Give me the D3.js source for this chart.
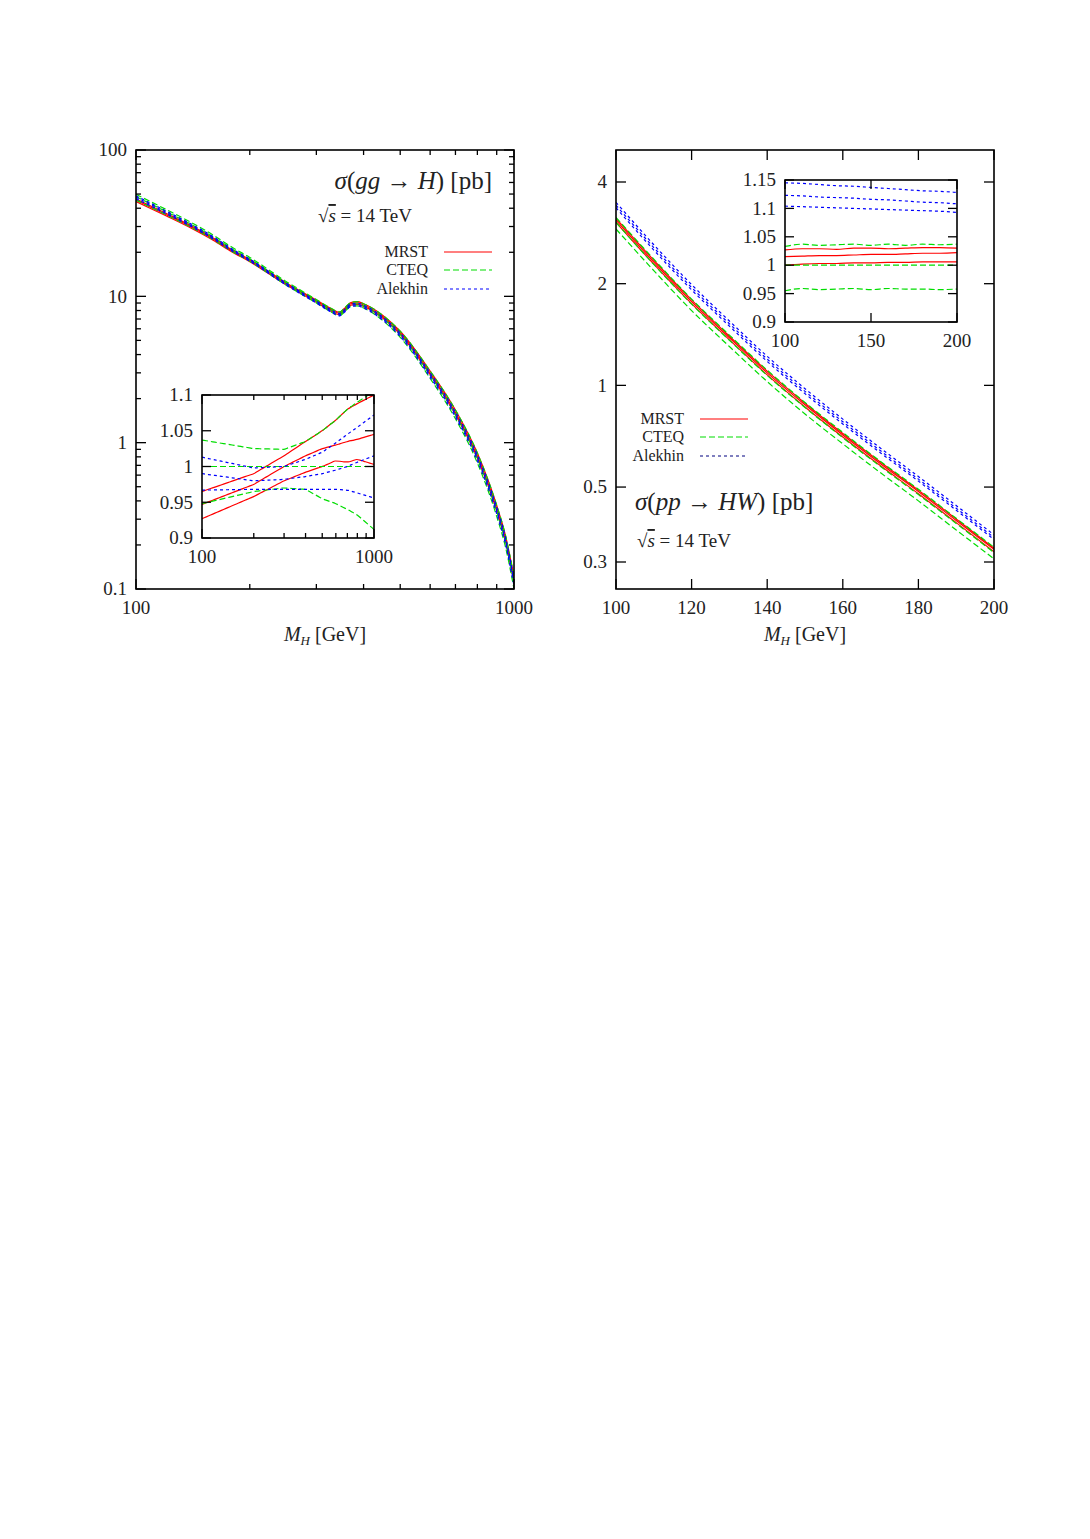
<!DOCTYPE html>
<html><head><meta charset="utf-8">
<script src="https://cdn.jsdelivr.net/npm/d3@7"></script>
<style>body{margin:0;background:#fff}text{font-family:"Liberation Serif","DejaVu Serif",serif;fill:#222}</style>
</head><body><svg id="c" width="1090" height="1539"></svg>
<script>
// ---------- data ----------
const ggMass = [100,120,140,160,180,200,250,300,330,345,355,370,385,400,450,500,600,700,800,900,950,1000];
const ggXsec = [48,38,31,25.5,21,18,12.3,9.3,8.0,7.6,8.0,8.8,8.9,8.6,7.1,5.5,2.9,1.55,0.78,0.34,0.21,0.11];
const ggRatioMass = [100,200,300,400,500,600,700,800,1000];
const ggRatio = {
  MRST:   [[0.965,0.99,1.015,1.035,1.05,1.065,1.08,1.088,1.1],
           [0.947,0.975,1.0,1.015,1.025,1.03,1.035,1.038,1.045],
           [0.927,0.958,0.98,0.992,1.0,1.008,1.006,1.01,1.003]],
  CTEQ:   [[1.037,1.025,1.024,1.035,1.05,1.065,1.08,1.09,1.105],
           [1.0,1.0,1.0,1.0,1.0,1.0,1.0,1.0,1.0],
           [0.948,0.965,0.97,0.968,0.955,0.948,0.94,0.932,0.912]],
  Alekhin:[[1.013,0.998,1.0,1.01,1.02,1.033,1.045,1.055,1.072],
           [0.99,0.98,0.982,0.986,0.99,0.995,1.0,1.006,1.015],
           [0.967,0.968,0.968,0.968,0.968,0.968,0.967,0.963,0.956]]
};
const hwMass = [100,110,120,130,140,150,160,170,180,190,200];
const hwXsec = [3.04,2.28,1.74,1.36,1.07,0.86,0.70,0.575,0.475,0.39,0.32];
const hwRatio = {
  MRST:   [[1.027,1.029,1.029,1.028,1.030,1.030,1.029,1.030,1.031,1.031,1.030],
           [1.015,1.016,1.017,1.017,1.018,1.019,1.019,1.020,1.021,1.021,1.022],
           [1.000,1.002,1.003,1.003,1.004,1.004,1.005,1.005,1.006,1.006,1.006]],
  CTEQ:   [[1.033,1.037,1.035,1.036,1.037,1.035,1.037,1.035,1.037,1.036,1.037],
           [1.0,1.0,1.0,1.0,1.0,1.0,1.0,1.0,1.0,1.0,1.0],
           [0.955,0.959,0.957,0.958,0.959,0.957,0.959,0.958,0.958,0.957,0.958]],
  Alekhin:[[1.145,1.144,1.142,1.140,1.139,1.137,1.135,1.133,1.131,1.130,1.128],
           [1.123,1.122,1.120,1.119,1.118,1.116,1.115,1.113,1.111,1.110,1.108],
           [1.104,1.103,1.102,1.101,1.100,1.099,1.098,1.097,1.096,1.095,1.093]]
};
const pdfSets = ["MRST","CTEQ","Alekhin"];
const leftYTicks = [100,10,1,0.1];
const rightYTicks = [4,2,1,0.5,0.3];
const rightXTicks = [100,120,140,160,180,200];
const ggInsetYTicks = [0.9,0.95,1,1.05,1.1];
const hwInsetYTicks = [0.9,0.95,1,1.05,1.1,1.15];
const hwInsetXTicks = [100,150,200];

// ---------- style ----------
const col = {MRST:"#ff0000",CTEQ:"#00dd00",Alekhin:"#0000ff"};
const dash = {MRST:null,CTEQ:"6,3",Alekhin:"3,3"};
const svg = d3.select("#c");

function logMinor(lo,hi){const a=[];for(let d=Math.pow(10,Math.floor(Math.log10(lo)));d<hi;d*=10)for(let k=2;k<10;k++){const v=k*d;if(v>lo&&v<hi)a.push(v);}return a;}

function frame(g,x,y,xMaj,xMin,yMaj,yMin,L,l){
  const [x0,x1]=x.range(),[y0,y1]=y.range();
  g.append("rect").attr("x",x0).attr("y",y1).attr("width",x1-x0).attr("height",y0-y1).attr("fill","none").attr("stroke","#000").attr("stroke-width",1.6);
  const t=(v,len,isX)=>{ if(isX){const p=x(v);g.append("line").attr("x1",p).attr("x2",p).attr("y1",y0).attr("y2",y0-len).attr("stroke","#000").attr("stroke-width",1.3);g.append("line").attr("x1",p).attr("x2",p).attr("y1",y1).attr("y2",y1+len).attr("stroke","#000").attr("stroke-width",1.3);}
    else{const p=y(v);g.append("line").attr("y1",p).attr("y2",p).attr("x1",x0).attr("x2",x0+len).attr("stroke","#000").attr("stroke-width",1.3);g.append("line").attr("y1",p).attr("y2",p).attr("x1",x1).attr("x2",x1-len).attr("stroke","#000").attr("stroke-width",1.3);}};
  xMaj.forEach(v=>t(v,L,true));xMin.forEach(v=>t(v,l,true));
  yMaj.forEach(v=>t(v,L,false));yMin.forEach(v=>t(v,l,false));
}
function labels(g,x,y,xT,yT,fs,xoff,yoff){
  xT.forEach(v=>g.append("text").attr("x",x(v)).attr("y",y.range()[0]+yoff).attr("text-anchor","middle").attr("font-size",fs).text(v));
  yT.forEach(v=>g.append("text").attr("x",x.range()[0]-xoff).attr("y",y(v)+fs*0.33).attr("text-anchor","end").attr("font-size",fs).text(v));
}
function curves(g,x,y,mass,base,ratios,clipId){
  pdfSets.forEach(s=>ratios[s].forEach(r=>{
    const line=d3.line().x(d=>x(d[0])).y(d=>y(d[1])).curve(d3.curveMonotoneX);
    const rm = ratios._mass;
    const data = mass.map((m,i)=>{let rv;
      if(rm){const xs=rm.map(v=>Math.log(v));const lm=Math.log(m);let j=0;while(j<rm.length-2&&lm>xs[j+1])j++;const t=(lm-xs[j])/(xs[j+1]-xs[j]);rv=r[j]+(r[j+1]-r[j])*t;} else rv=r[i];
      return [m, base? base[i]*rv : rv];});
    g.append("path").datum(data).attr("d",line).attr("fill","none").attr("stroke",col[s]).attr("stroke-width",1.2)
     .attr("stroke-dasharray",dash[s]).attr("clip-path",clipId?`url(#${clipId})`:null);
  }));
}
const defs=svg.append("defs");
function clip(id,x,y){const [x0,x1]=x.range(),[y0,y1]=y.range();defs.append("clipPath").attr("id",id).append("rect").attr("x",x0).attr("y",y1).attr("width",x1-x0).attr("height",y0-y1);}

// ---------- left panel ----------
{
  const g=svg.append("g");
  const x=d3.scaleLog().domain([100,1000]).range([136,514]);
  const y=d3.scaleLog().domain([0.1,100]).range([589,150]);
  clip("cl",x,y);
  const r=Object.assign({},ggRatio,{_mass:ggRatioMass});
  curves(g,x,y,ggMass,ggXsec,r,"cl");
  frame(g,x,y,[100,1000],logMinor(100,1000),leftYTicks,logMinor(0.1,100),10,5);
  labels(g,x,y,[100,1000],leftYTicks,19,9,25);
  g.append("text").attr("x",325).attr("y",641).attr("text-anchor","middle").attr("font-size",20).html('<tspan font-style="italic">M</tspan><tspan font-style="italic" font-size="13" dy="4">H</tspan><tspan dy="-4"> [GeV]</tspan>');
  g.append("text").attr("x",492).attr("y",189).attr("text-anchor","end").attr("font-size",25).html('<tspan font-style="italic">σ</tspan>(<tspan font-style="italic">gg</tspan> → <tspan font-style="italic">H</tspan>) [pb]');
  g.append("text").attr("x",318).attr("y",222).attr("font-size",19).html('√<tspan font-style="italic" text-decoration="overline">s</tspan> = 14 TeV');
  pdfSets.forEach((s,i)=>{const yy=[252,270,289][i];
    g.append("text").attr("x",428).attr("y",yy+5).attr("text-anchor","end").attr("font-size",16).text(s);
    g.append("line").attr("x1",444).attr("x2",492).attr("y1",yy).attr("y2",yy).attr("stroke",col[s]).attr("stroke-width",1.2).attr("stroke-dasharray",dash[s]);});
  const xi=d3.scaleLog().domain([100,1000]).range([202,374]);
  const yi=d3.scaleLinear().domain([0.9,1.1]).range([538,395]);
  g.append("rect").attr("x",202).attr("y",395).attr("width",172).attr("height",143).attr("fill","#fff");
  clip("cli",xi,yi);
  curves(g,xi,yi,d3.range(0,41).map(i=>100*Math.pow(10,i/40)),null,r,"cli");
  frame(g,xi,yi,[100,1000],logMinor(100,1000),ggInsetYTicks,[],9,5);
  labels(g,xi,yi,[100,1000],ggInsetYTicks,19,9,25);
}
// ---------- right panel ----------
{
  const g=svg.append("g");
  const x=d3.scaleLinear().domain([100,200]).range([616,994]);
  const y=d3.scaleLog().domain([0.3,4]).range([562,182]);
  const top=y.invert(150),bot=y.invert(589);
  y.domain([bot,top]).range([589,150]);
  clip("cr",x,y);
  curves(g,x,y,hwMass,hwXsec,hwRatio,"cr");
  frame(g,x,y,rightXTicks,[],rightYTicks,[],10,5);
  labels(g,x,y,rightXTicks,rightYTicks,19,9,25);
  g.append("text").attr("x",805).attr("y",641).attr("text-anchor","middle").attr("font-size",20).html('<tspan font-style="italic">M</tspan><tspan font-style="italic" font-size="13" dy="4">H</tspan><tspan dy="-4"> [GeV]</tspan>');
  g.append("text").attr("x",635).attr("y",510).attr("font-size",25).html('<tspan font-style="italic">σ</tspan>(<tspan font-style="italic">pp</tspan> → <tspan font-style="italic">HW</tspan>) [pb]');
  g.append("text").attr("x",637).attr("y",547).attr("font-size",19).html('√<tspan font-style="italic" text-decoration="overline">s</tspan> = 14 TeV');
  pdfSets.forEach((s,i)=>{const yy=[419,437,456][i];
    g.append("text").attr("x",684).attr("y",yy+5).attr("text-anchor","end").attr("font-size",16).text(s);
    g.append("line").attr("x1",700).attr("x2",748).attr("y1",yy).attr("y2",yy).attr("stroke",s==="Alekhin"?"#000080":col[s]).attr("stroke-width",1.2).attr("stroke-dasharray",dash[s]);});
  const xi=d3.scaleLinear().domain([100,200]).range([785,957]);
  const yi=d3.scaleLinear().domain([0.9,1.15]).range([322,180]);
  g.append("rect").attr("x",785).attr("y",180).attr("width",172).attr("height",142).attr("fill","#fff");
  clip("cri",xi,yi);
  curves(g,xi,yi,hwMass,null,hwRatio,"cri");
  frame(g,xi,yi,hwInsetXTicks,[],hwInsetYTicks,[],9,5);
  labels(g,xi,yi,hwInsetXTicks,hwInsetYTicks,19,9,25);
}
</script></body></html>
